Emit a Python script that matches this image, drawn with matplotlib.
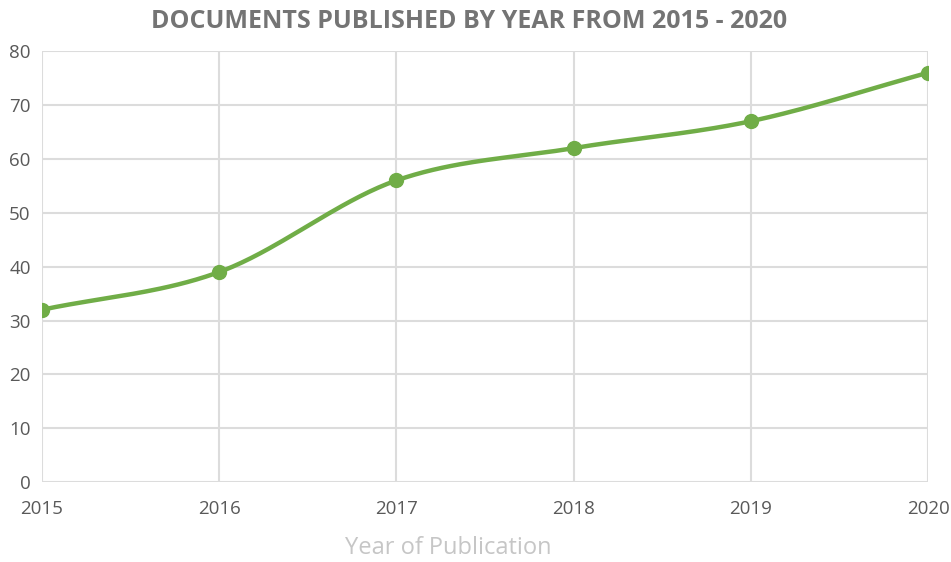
import numpy as np
import matplotlib.pyplot as plt

# Documents published per year
years = [2015, 2016, 2017, 2018, 2019, 2020]
documents = [32, 39, 56, 62, 67, 76]
y_ticks = [0, 10, 20, 30, 40, 50, 60, 70, 80]

line_color = "#70ad47"
grid_color = "#dcdcdc"
text_color = "#595959"


def smooth_curve(x, y, steps=40):
    # Catmull-Rom spline through the points (similar to a spreadsheet "smoothed line")
    x = np.asarray(x, dtype=float)
    y = np.asarray(y, dtype=float)
    px = np.concatenate([[2 * x[0] - x[1]], x, [2 * x[-1] - x[-2]]])
    py = np.concatenate([[2 * y[0] - y[1]], y, [2 * y[-1] - y[-2]]])
    xs, ys = [], []
    t = np.linspace(0, 1, steps)
    for i in range(1, len(px) - 2):
        for p, out in ((px, xs), (py, ys)):
            p0, p1, p2, p3 = p[i - 1], p[i], p[i + 1], p[i + 2]
            out.extend(0.5 * (2 * p1 + (-p0 + p2) * t
                              + (2 * p0 - 5 * p1 + 4 * p2 - p3) * t ** 2
                              + (-p0 + 3 * p1 - 3 * p2 + p3) * t ** 3))
    return np.array(xs), np.array(ys)


plt.rcParams["font.family"] = ["Open Sans", "DejaVu Sans"]

fig = plt.figure(figsize=(9.51, 5.62), dpi=100)
ax = fig.add_axes([0.044, 0.142, 0.932, 0.767])

sx, sy = smooth_curve(years, documents)
ax.plot(sx, sy, color=line_color, linewidth=3.2, solid_capstyle="round", zorder=3)
ax.plot(years, documents, "o", color=line_color, markersize=10, zorder=4)

ax.set_xlim(years[0], years[-1])
ax.set_ylim(0, 80)
ax.set_xticks(years)
ax.set_yticks(y_ticks)
ax.grid(True, color=grid_color, linewidth=1.5)
ax.set_axisbelow(True)
for spine in ax.spines.values():
    spine.set_visible(False)
ax.tick_params(length=0, labelsize=13.5, colors=text_color)
ax.tick_params(axis="x", pad=12.5)
ax.tick_params(axis="y", pad=8)

fig.text(0.471, 0.004, "Year of Publication", ha="center", va="bottom",
         fontsize=17, color="#c6c6c6")
fig.text(0.493, 0.961, "DOCUMENTS PUBLISHED BY YEAR FROM 2015 - 2020",
         ha="center", va="center", fontsize=18, fontweight="bold", color="#747474")

fig.savefig("out.png", dpi=100, facecolor="white")
